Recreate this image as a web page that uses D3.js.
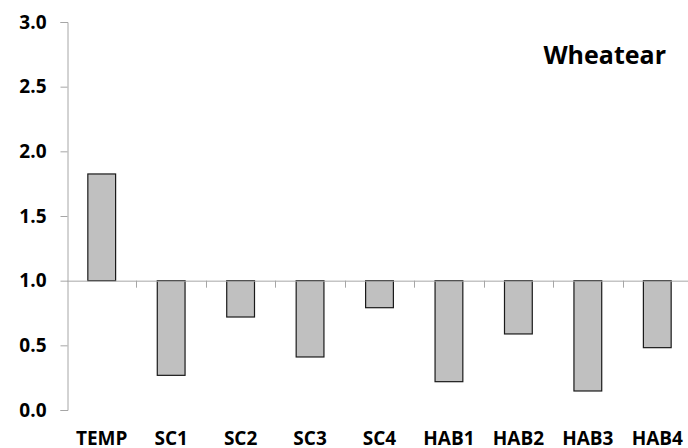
<!DOCTYPE html>
<html>
<head>
<meta charset="utf-8">
<script src="https://cdn.jsdelivr.net/npm/d3@7"></script>
<style>
  body { margin: 0; background: #fff; }
  text { font-family: "Open Sans", "Noto Sans", sans-serif; font-weight: bold; fill: #000; }
</style>
</head>
<body>
<svg id="chart" width="688" height="448"></svg>
<script>
const categories = ['TEMP', 'SC1', 'SC2', 'SC3', 'SC4', 'HAB1', 'HAB2', 'HAB3', 'HAB4'];
const values = [1.825, 0.268, 0.719, 0.41, 0.791, 0.219, 0.588, 0.147, 0.482];
const yTicks = [0, 0.5, 1.0, 1.5, 2.0, 2.5, 3.0];
const baseline = 1.0;
const title = 'Wheatear';

const svg = d3.select('#chart');

const x = d3.scaleBand()
  .domain(categories)
  .range([67, 692])
  .paddingInner(0.6)
  .paddingOuter(0.3);

const y = d3.scaleLinear()
  .domain([0, 3])
  .range([410, 22]);

// bars from the 1.0 baseline
svg.append('g')
  .selectAll('rect')
  .data(categories)
  .join('rect')
  .attr('x', d => x(d))
  .attr('width', x.bandwidth())
  .attr('y', (d, i) => y(Math.max(values[i], baseline)))
  .attr('height', (d, i) => Math.abs(y(values[i]) - y(baseline)))
  .attr('fill', '#c0c0c0')
  .attr('stroke', '#1a1a1a')
  .attr('stroke-width', 1.2);

// y axis
const yAxis = svg.append('g')
  .attr('transform', 'translate(67.5,0)')
  .call(d3.axisLeft(y).tickValues(yTicks).tickFormat(d3.format('.1f')).tickSizeOuter(0).tickSize(7).tickPadding(14));
yAxis.select('.domain').attr('stroke', '#a6a6a6');
yAxis.selectAll('.tick line').attr('stroke', '#a6a6a6');
yAxis.selectAll('.tick text').style('font-size', '19px');

// horizontal axis at 1.0 with category boundary ticks
const step = x.step();
const edges = d3.range(1, categories.length).map(i => 67 + i * step);
const xg = svg.append('g');
xg.append('line')
  .attr('x1', 67).attr('x2', 692)
  .attr('y1', y(baseline) + 0.5).attr('y2', y(baseline) + 0.5)
  .attr('stroke', '#a6a6a6');
xg.selectAll('line.tk')
  .data(edges)
  .join('line')
  .attr('class', 'tk')
  .attr('x1', d => Math.round(d) + 0.5).attr('x2', d => Math.round(d) + 0.5)
  .attr('y1', y(baseline)).attr('y2', y(baseline) + 7)
  .attr('stroke', '#a6a6a6');

// category labels at the bottom
svg.append('g')
  .selectAll('text')
  .data(categories)
  .join('text')
  .attr('x', d => x(d) + x.bandwidth() / 2)
  .attr('y', 445)
  .attr('text-anchor', 'middle')
  .style('font-size', '19px')
  .text(d => d);

svg.append('text')
  .attr('x', 666)
  .attr('y', 64)
  .attr('text-anchor', 'end')
  .style('font-size', '25px')
  .text(title);
</script>
</body>
</html>
